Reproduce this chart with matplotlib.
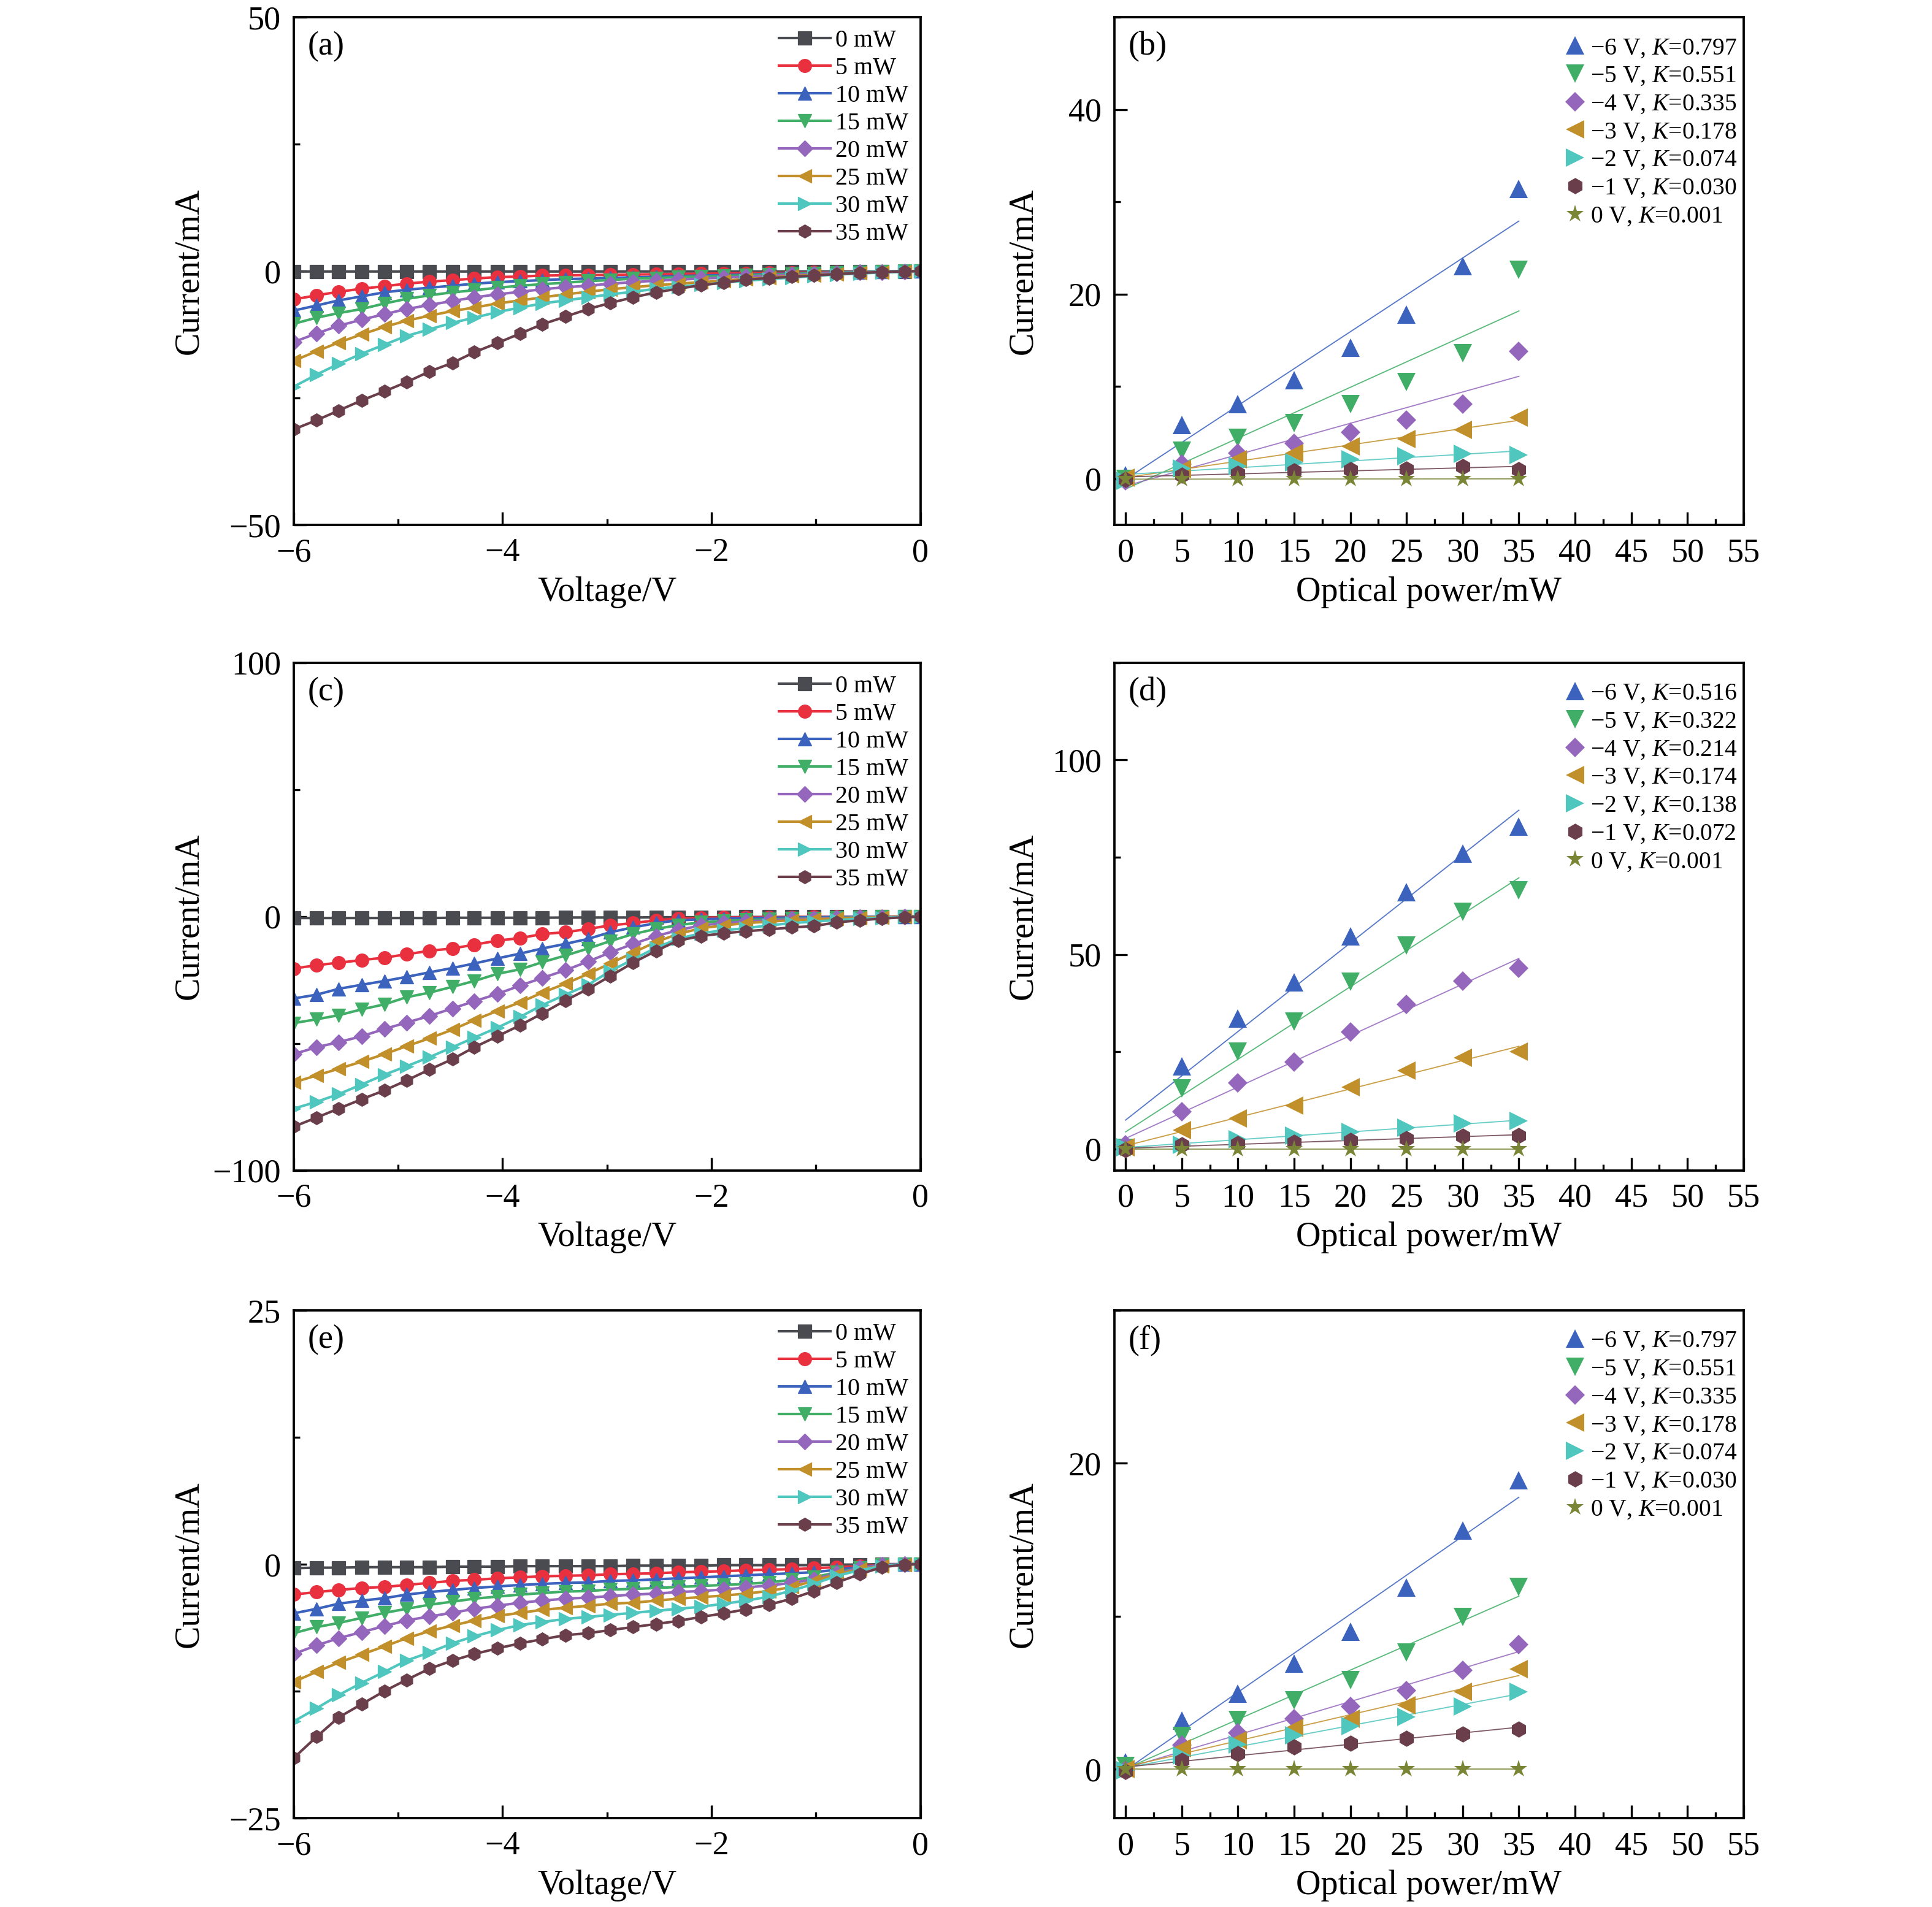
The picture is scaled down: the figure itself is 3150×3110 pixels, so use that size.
import matplotlib
matplotlib.use('Agg')
import matplotlib.pyplot as plt
from matplotlib.ticker import MultipleLocator
import numpy as np

plt.rcParams['font.family'] = ['Liberation Serif', 'DejaVu Serif']
plt.rcParams['mathtext.fontset'] = 'custom'
plt.rcParams['mathtext.rm'] = 'Liberation Serif'
plt.rcParams['mathtext.it'] = 'Liberation Serif:italic'

# ---- I-V curves (left column) ----
volt = [-6.0, -5.78, -5.57, -5.35, -5.13, -4.92, -4.70, -4.48, -4.27, -4.05,
        -3.83, -3.62, -3.40, -3.18, -2.97, -2.75, -2.53, -2.32, -2.10, -1.88,
        -1.67, -1.45, -1.23, -1.02, -0.80, -0.58, -0.37, -0.15, 0.0]
powers = ['0 mW', '5 mW', '10 mW', '15 mW', '20 mW', '25 mW', '30 mW', '35 mW']

a0 = [-0.1] * 28 + [0.0]
a5 = [-5.6, -4.8, -4.1, -3.5, -3.0, -2.5, -2.1, -1.8, -1.5, -1.2, -1.1, -0.9, -0.85, -0.8, -0.75,
      -0.7, -0.65, -0.6, -0.55, -0.5, -0.45, -0.4, -0.35, -0.3, -0.25, -0.2, -0.15, -0.1, 0.0]
a10 = [-7.8, -6.8, -5.8, -5.0, -4.2, -3.7, -3.3, -2.9, -2.5, -2.2, -2.0, -1.8, -1.6, -1.5, -1.35,
       -1.25, -1.15, -1.0, -0.9, -0.8, -0.7, -0.6, -0.5, -0.4, -0.3, -0.2, -0.1, -0.05, 0.0]
a15 = [-10.4, -9.2, -8.3, -7.5, -6.4, -5.5, -4.8, -4.2, -3.8, -3.3, -2.9, -2.6, -2.3, -2.0, -1.8,
       -1.5, -1.4, -1.2, -1.1, -1.0, -0.85, -0.7, -0.6, -0.45, -0.35, -0.25, -0.15, -0.05, 0.0]
a20 = [-14.0, -12.3, -10.8, -9.6, -8.5, -7.5, -6.7, -5.9, -5.2, -4.6, -4.1, -3.6, -3.2, -2.9, -2.5,
       -2.2, -1.9, -1.7, -1.5, -1.3, -1.1, -0.9, -0.75, -0.6, -0.45, -0.3, -0.2, -0.1, 0.0]
a25 = [-17.7, -15.8, -14.1, -12.5, -11.0, -9.8, -8.8, -7.9, -7.2, -6.4, -5.8, -5.2, -4.6, -4.1, -3.6,
       -3.2, -2.8, -2.5, -2.2, -1.9, -1.6, -1.3, -1.0, -0.8, -0.6, -0.4, -0.25, -0.1, 0.0]
a30 = [-22.8, -20.4, -18.3, -16.3, -14.5, -12.8, -11.5, -10.2, -9.2, -8.1, -7.2, -6.4, -5.8, -5.2, -4.6,
       -4.1, -3.5, -3.1, -2.7, -2.3, -1.9, -1.6, -1.3, -1.0, -0.7, -0.5, -0.3, -0.15, 0.0]
a35 = [-31.2, -29.4, -27.5, -25.5, -23.7, -21.9, -19.8, -18.1, -16.0, -14.2, -12.3, -10.5, -9.0, -7.5, -6.3,
       -5.2, -4.2, -3.5, -2.8, -2.3, -1.7, -1.4, -1.15, -0.9, -0.6, -0.4, -0.2, -0.1, 0.0]

c0 = [-0.6] * 7 + [-0.5] * 5 + [-0.4] * 4 + [-0.3] * 4 + [-0.2] * 4 + [-0.1] * 4 + [0.0]
c5 = [-20.5, -19.2, -18.2, -17.2, -16.2, -14.9, -13.5, -12.6, -11.1, -9.5, -8.5, -6.9, -6.2, -4.9, -3.5,
      -2.6, -1.5, -0.8, -0.5, -0.4, -0.35, -0.3, -0.25, -0.2, -0.15, -0.1, -0.05, 0.0, 0.0]
c10 = [-32.3, -30.8, -28.5, -26.9, -25.4, -23.8, -22.0, -20.3, -18.5, -16.5, -14.6, -12.6, -10.8, -8.8, -6.2,
       -4.3, -2.6, -1.5, -1.1, -0.8, -0.6, -0.5, -0.4, -0.3, -0.2, -0.15, -0.1, -0.05, 0.0]
c15 = [-42.0, -40.5, -38.9, -36.6, -34.6, -31.8, -30.0, -27.7, -25.4, -22.6, -20.8, -18.0, -15.4, -12.6, -9.7,
       -6.9, -4.9, -3.4, -2.3, -1.8, -1.4, -1.1, -0.9, -0.7, -0.5, -0.35, -0.2, -0.1, 0.0]
c20 = [-54.2, -51.5, -49.5, -47.2, -44.3, -41.8, -39.2, -36.2, -33.4, -30.5, -27.2, -24.2, -21.2, -17.7, -14.2,
       -10.8, -7.7, -5.4, -3.5, -2.6, -2.0, -1.5, -1.1, -0.8, -0.6, -0.4, -0.25, -0.1, 0.0]
c25 = [-65.4, -62.6, -60.0, -57.2, -54.2, -51.1, -48.0, -44.6, -40.8, -37.2, -33.8, -30.0, -26.5, -22.6, -18.5,
       -14.2, -10.0, -6.9, -4.6, -3.5, -2.6, -2.0, -1.5, -1.1, -0.8, -0.5, -0.3, -0.1, 0.0]
c30 = [-75.7, -73.0, -70.0, -66.2, -62.3, -59.0, -55.4, -51.5, -47.7, -43.8, -39.5, -34.9, -30.8, -26.9, -21.5,
       -16.9, -12.3, -8.8, -6.6, -5.4, -4.6, -3.5, -2.6, -2.0, -1.4, -0.9, -0.5, -0.2, 0.0]
c35 = [-82.8, -79.2, -75.7, -72.0, -68.5, -64.6, -60.3, -56.2, -51.5, -47.2, -42.8, -38.2, -33.1, -28.5, -23.5,
       -18.2, -13.5, -9.5, -7.7, -6.6, -5.8, -5.1, -4.3, -3.8, -2.3, -1.5, -0.8, -0.3, 0.0]

e0 = [-0.4, -0.35, -0.35, -0.3, -0.3, -0.3, -0.3, -0.25, -0.25, -0.25, -0.2, -0.2, -0.2, -0.2, -0.2,
      -0.15, -0.15, -0.15, -0.15, -0.1, -0.1, -0.1, -0.1, -0.1, -0.05, -0.05, 0.0, 0.0, 0.0]
e5 = [-3.0, -2.75, -2.55, -2.35, -2.25, -2.05, -1.85, -1.65, -1.55, -1.4, -1.3, -1.2, -1.15, -1.1, -1.0,
      -0.95, -0.9, -0.8, -0.75, -0.7, -0.6, -0.55, -0.5, -0.4, -0.3, -0.2, -0.1, 0.0, 0.0]
e10 = [-4.85, -4.4, -3.9, -3.6, -3.35, -3.0, -2.75, -2.55, -2.35, -2.2, -2.05, -1.95, -1.85, -1.8, -1.65,
       -1.6, -1.5, -1.4, -1.3, -1.2, -1.1, -1.0, -0.9, -0.8, -0.55, -0.3, -0.1, 0.0, 0.0]
e15 = [-6.8, -6.2, -5.8, -5.3, -4.8, -4.4, -4.0, -3.7, -3.4, -3.2, -3.0, -2.85, -2.7, -2.65, -2.5,
       -2.45, -2.35, -2.25, -2.15, -2.05, -1.95, -1.8, -1.55, -1.3, -0.8, -0.4, -0.1, 0.0, 0.0]
e20 = [-8.85, -8.0, -7.3, -6.7, -6.1, -5.55, -5.15, -4.8, -4.4, -4.1, -3.8, -3.6, -3.4, -3.3, -3.15,
       -3.0, -2.9, -2.75, -2.65, -2.5, -2.3, -2.1, -1.85, -1.5, -0.9, -0.4, -0.1, 0.0, 0.0]
e25 = [-11.6, -10.6, -9.7, -8.9, -8.1, -7.3, -6.6, -6.05, -5.55, -5.1, -4.8, -4.5, -4.3, -4.1, -3.9,
       -3.8, -3.6, -3.4, -3.25, -3.1, -2.9, -2.65, -2.25, -1.65, -1.0, -0.5, -0.2, -0.05, 0.0]
e30 = [-15.5, -14.2, -12.9, -11.7, -10.6, -9.5, -8.7, -7.8, -7.1, -6.5, -6.0, -5.7, -5.4, -5.2, -5.0,
       -4.8, -4.6, -4.4, -4.2, -3.9, -3.6, -3.2, -2.6, -1.95, -1.15, -0.6, -0.2, 0.0, 0.0]
e35 = [-19.1, -17.0, -15.1, -13.8, -12.5, -11.4, -10.3, -9.5, -8.85, -8.3, -7.8, -7.4, -7.0, -6.8, -6.5,
       -6.2, -5.9, -5.6, -5.2, -4.85, -4.45, -4.0, -3.4, -2.65, -1.8, -1.0, -0.3, -0.05, 0.0]

# ---- current vs optical power (right column) ----
optical = [0, 5, 10, 15, 20, 25, 30, 35]
bias = ['\u22126 V', '\u22125 V', '\u22124 V', '\u22123 V', '\u22122 V', '\u22121 V', '0 V']
k_b = ['0.797', '0.551', '0.335', '0.178', '0.074', '0.030', '0.001']
k_d = ['0.516', '0.322', '0.214', '0.174', '0.138', '0.072', '0.001']
k_f = ['0.797', '0.551', '0.335', '0.178', '0.074', '0.030', '0.001']

b_m6 = [0.4, 5.8, 8.05, 10.7, 14.2, 17.8, 23.0, 31.4]
b_m5 = [0.0, 3.0, 4.4, 6.0, 8.05, 10.5, 13.6, 22.6]
b_m4 = [-0.2, 1.6, 2.75, 3.8, 5.0, 6.35, 8.1, 13.8]
b_m3 = [0.1, 1.05, 2.1, 2.75, 3.5, 4.3, 5.3, 6.65]
b_m2 = [-0.2, 1.1, 1.4, 1.8, 2.1, 2.4, 2.7, 2.55]
b_m1 = [-0.1, 0.4, 0.6, 0.85, 1.0, 1.05, 1.3, 1.0]
b_0 = [-0.05, -0.05, -0.05, -0.04, -0.04, -0.03, -0.03, -0.02]

d_m6 = [1.0, 21.2, 33.5, 42.8, 54.7, 66.0, 76.0, 82.8]
d_m5 = [0.2, 15.5, 25.0, 32.8, 43.0, 52.3, 61.0, 66.5]
d_m4 = [1.0, 9.5, 17.0, 22.3, 30.0, 37.2, 43.2, 46.5]
d_m3 = [0.5, 4.8, 7.8, 11.2, 15.8, 20.2, 23.5, 25.0]
d_m2 = [0.5, 1.0, 2.5, 3.5, 4.3, 5.5, 6.5, 7.2]
d_m1 = [-0.2, 1.0, 1.3, 1.7, 2.2, 2.7, 3.2, 3.5]
d_0 = [0.0, 0.0, 0.0, 0.0, 0.0, 0.0, 0.0, 0.0]

f_m6 = [0.45, 3.15, 4.95, 6.9, 9.0, 11.85, 15.6, 18.9]
f_m5 = [0.2, 2.15, 3.2, 4.5, 5.8, 7.6, 9.95, 11.9]
f_m4 = [-0.1, 1.55, 2.35, 3.3, 4.1, 5.15, 6.45, 8.15]
f_m3 = [0.0, 1.35, 1.9, 2.7, 3.3, 4.15, 5.05, 6.55]
f_m2 = [-0.1, 0.9, 1.6, 2.2, 2.8, 3.4, 4.1, 5.05]
f_m1 = [-0.15, 0.55, 1.0, 1.45, 1.7, 2.0, 2.3, 2.6]
f_0 = [0.0, 0.0, 0.0, 0.0, 0.0, 0.0, 0.0, 0.0]

iv_colors = ['#4a4b50', '#e8303f', '#3b62bd', '#40ae66', '#9467bd', '#c2902a', '#4fc6be', '#6a3f4b']
iv_markers = ['s', 'o', '^', 'v', 'D', '<', '>', 'h']
pw_colors = ['#3b62bd', '#40ae66', '#9467bd', '#c2902a', '#4fc6be', '#6a3f4b', '#7b8536']
pw_markers = ['^', 'v', 'D', '<', '>', 'h', '*']

fig = plt.figure(figsize=(10.5, 10.3667), dpi=300)
w_l, w_r, h = 0.3244, 0.3257, 0.2662
x_l, x_r = 0.152, 0.5768
bottoms = [0.7248, 0.3863, 0.0467]


def style_axes(ax):
    ax.tick_params(which='both', direction='in', labelsize=13, top=False, right=False)
    ax.tick_params(which='major', length=5, width=0.8, pad=5)
    ax.tick_params(which='minor', length=2.5, width=0.8)
    for s in ax.spines.values():
        s.set_linewidth(0.9)


def iv_panel(ax, curves, ylim, ymajor, label):
    for vals, lab, col, mk in zip(curves, powers, iv_colors, iv_markers):
        ms = 5.2 if mk != 'D' else 4.3
        ax.plot(volt, vals, color=col, marker=mk, markersize=ms, linewidth=1.0,
                markeredgewidth=0.3, markeredgecolor=col, label=lab)
    ax.set_xlim(-6, 0)
    ax.set_ylim(*ylim)
    ax.xaxis.set_major_locator(MultipleLocator(2))
    ax.xaxis.set_minor_locator(MultipleLocator(1))
    ax.yaxis.set_major_locator(MultipleLocator(ymajor))
    ax.yaxis.set_minor_locator(MultipleLocator(ymajor / 2))
    ax.set_xlabel('Voltage/V', fontsize=13.5, labelpad=3)
    ax.set_ylabel('Current/mA', fontsize=13.5)
    ax.yaxis.set_label_coords(-0.141, 0.5)
    ax.text(0.022, 0.972, label, transform=ax.transAxes, fontsize=13, va='top', ha='left')
    ax.legend(loc='upper right', frameon=False, fontsize=9.6, handlelength=2.1,
              handletextpad=0.2, labelspacing=0.2, borderaxespad=0.2, borderpad=0.3)
    style_axes(ax)


def power_panel(ax, series, ks, ylim, ymajor, label):
    for vals, b, k, col, mk in zip(series, bias, ks, pw_colors, pw_markers):
        slope, icpt = np.polyfit(optical, vals, 1)
        xs = np.array([optical[0], optical[-1]])
        ax.plot(xs, slope * xs + icpt, color=col, linewidth=0.45, alpha=0.85, zorder=2)
        ms = 7.0
        if mk == 'D':
            ms = 5.5
        if mk == 'h':
            ms = 6.4
        if mk == '*':
            ms = 7.2
        ax.plot(optical, vals, linestyle='none', marker=mk, markersize=ms, color=col,
                markeredgewidth=0, zorder=3, label=b + ', $K$=' + k)
    ax.set_xlim(-1, 55)
    ax.set_ylim(*ylim)
    ax.xaxis.set_major_locator(MultipleLocator(5))
    ax.xaxis.set_minor_locator(MultipleLocator(2.5))
    ax.yaxis.set_major_locator(MultipleLocator(ymajor))
    ax.yaxis.set_minor_locator(MultipleLocator(ymajor / 2))
    ax.set_xlabel('Optical power/mW', fontsize=13.5, labelpad=3)
    ax.set_ylabel('Current/mA', fontsize=13.5)
    ax.yaxis.set_label_coords(-0.12, 0.5)
    ax.text(0.022, 0.972, label, transform=ax.transAxes, fontsize=13, va='top', ha='left')
    ax.legend(loc='upper right', bbox_to_anchor=(1.0, 0.973), frameon=False, fontsize=9.5,
              handlelength=0.8, handletextpad=0.25, labelspacing=0.22, borderaxespad=0.0,
              borderpad=0.25)
    style_axes(ax)


ax_a = fig.add_axes([x_l, bottoms[0], w_l, h])
iv_panel(ax_a, [a0, a5, a10, a15, a20, a25, a30, a35], (-50, 50), 50, '(a)')
ax_c = fig.add_axes([x_l, bottoms[1], w_l, h])
iv_panel(ax_c, [c0, c5, c10, c15, c20, c25, c30, c35], (-100, 100), 100, '(c)')
ax_e = fig.add_axes([x_l, bottoms[2], w_l, h])
iv_panel(ax_e, [e0, e5, e10, e15, e20, e25, e30, e35], (-25, 25), 25, '(e)')

ax_b = fig.add_axes([x_r, bottoms[0], w_r, h])
power_panel(ax_b, [b_m6, b_m5, b_m4, b_m3, b_m2, b_m1, b_0], k_b, (-5, 50), 20, '(b)')
ax_d = fig.add_axes([x_r, bottoms[1], w_r, h])
power_panel(ax_d, [d_m6, d_m5, d_m4, d_m3, d_m2, d_m1, d_0], k_d, (-5.5, 125), 50, '(d)')
ax_f = fig.add_axes([x_r, bottoms[2], w_r, h])
power_panel(ax_f, [f_m6, f_m5, f_m4, f_m3, f_m2, f_m1, f_0], k_f, (-3.2, 30), 20, '(f)')

fig.savefig('out.png', dpi=300)
